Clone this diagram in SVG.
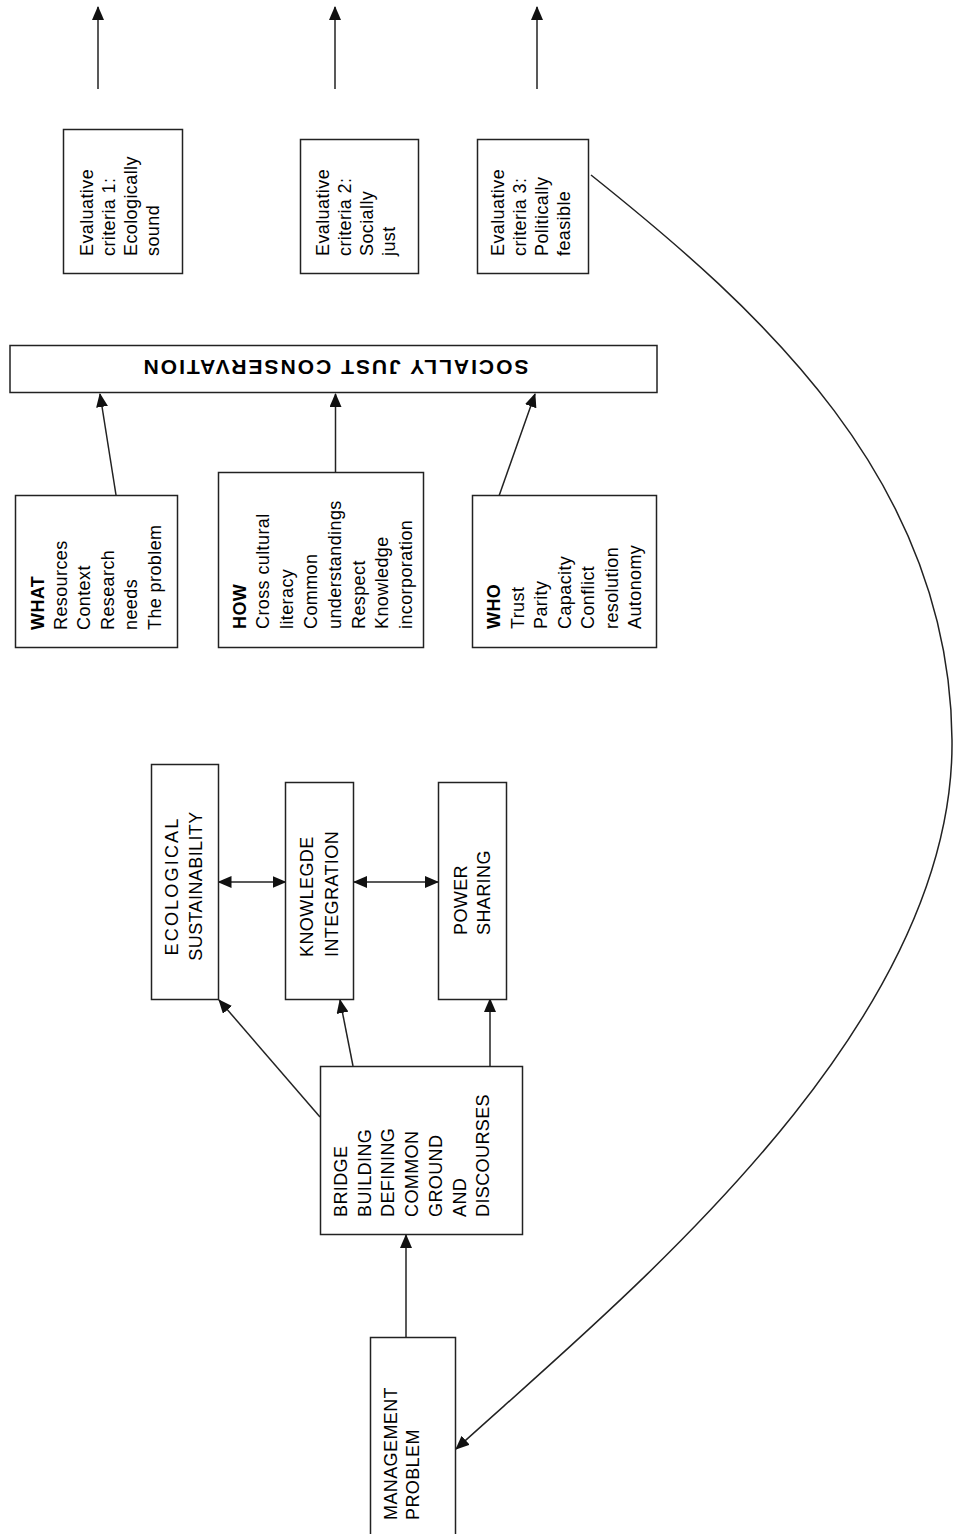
<svg xmlns="http://www.w3.org/2000/svg" width="956" height="1534" viewBox="0 0 956 1534">
<defs>
<style>
.box{fill:#fff;stroke:#222;stroke-width:1.5}
.ln{fill:none;stroke:#222;stroke-width:1.5}
.t{font-family:"Liberation Sans",Arial,sans-serif;font-size:18px;letter-spacing:0.4px;fill:#000}
.b{font-weight:bold}
.sj{font-family:"Liberation Sans",Arial,sans-serif;font-size:21px;font-weight:bold;letter-spacing:2px;fill:#000}
</style>
<marker id="ah" markerUnits="userSpaceOnUse" markerWidth="14" markerHeight="12" refX="13" refY="6" orient="auto-start-reverse" viewBox="0 0 14 12">
<path d="M0,0 L14,6 L0,12 z" fill="#111"/>
</marker>
</defs>
<rect width="956" height="1534" fill="#fff"/>

<g id="connectors">
<line class="ln" x1="98" y1="89" x2="98" y2="7" marker-end="url(#ah)"/>
<line class="ln" x1="335" y1="89" x2="335" y2="7" marker-end="url(#ah)"/>
<line class="ln" x1="537" y1="89" x2="537" y2="7" marker-end="url(#ah)"/>
<line class="ln" x1="116" y1="495" x2="100" y2="394" marker-end="url(#ah)"/>
<line class="ln" x1="335.5" y1="472" x2="335.5" y2="394" marker-end="url(#ah)"/>
<line class="ln" x1="499" y1="496" x2="535" y2="394" marker-end="url(#ah)"/>
<line class="ln" x1="218.5" y1="882" x2="285.5" y2="882" marker-start="url(#ah)" marker-end="url(#ah)"/>
<line class="ln" x1="354" y1="882" x2="438" y2="882" marker-start="url(#ah)" marker-end="url(#ah)"/>
<line class="ln" x1="320" y1="1117" x2="219" y2="1000" marker-end="url(#ah)"/>
<line class="ln" x1="353" y1="1066" x2="340" y2="1000" marker-end="url(#ah)"/>
<line class="ln" x1="490" y1="1066" x2="490" y2="999" marker-end="url(#ah)"/>
<line class="ln" x1="406" y1="1337" x2="406" y2="1235" marker-end="url(#ah)"/>
<path class="ln" d="M591,175 C760,310 950,480 952,740 C955,1030 620,1300 456,1449" marker-end="url(#ah)"/>
</g>

<g id="ec1">
<rect class="box" x="63.5" y="129.5" width="119" height="144"/>
<text class="t" transform="translate(92.5,256) rotate(-90)"><tspan x="0" y="0">Evaluative</tspan><tspan x="0" y="22">criteria 1:</tspan><tspan x="0" y="44">Ecologically</tspan><tspan x="0" y="66">sound</tspan></text>
</g>
<g id="ec2">
<rect class="box" x="300.5" y="139.5" width="118" height="134"/>
<text class="t" transform="translate(329,256) rotate(-90)"><tspan x="0" y="0">Evaluative</tspan><tspan x="0" y="22">criteria 2:</tspan><tspan x="0" y="44">Socially</tspan><tspan x="0" y="66">just</tspan></text>
</g>
<g id="ec3">
<rect class="box" x="477.5" y="139.5" width="111" height="134"/>
<text class="t" transform="translate(504,256) rotate(-90)"><tspan x="0" y="0">Evaluative</tspan><tspan x="0" y="22">criteria 3:</tspan><tspan x="0" y="44">Politically</tspan><tspan x="0" y="66">feasible</tspan></text>
</g>

<g id="sjc">
<rect class="box" x="10" y="345.5" width="647" height="47"/>
<text class="sj" text-anchor="middle" transform="rotate(180,335,368)" x="335" y="376">SOCIALLY JUST CONSERVATION</text>
</g>

<g id="what">
<rect class="box" x="15.5" y="495.5" width="162" height="152"/>
<text class="t" transform="translate(43.5,630) rotate(-90)"><tspan x="0" y="0" class="b">WHAT</tspan><tspan x="0" y="23.4">Resources</tspan><tspan x="0" y="46.8">Context</tspan><tspan x="0" y="70.2">Research</tspan><tspan x="0" y="93.6">needs</tspan><tspan x="0" y="117">The problem</tspan></text>
</g>
<g id="how">
<rect class="box" x="218.5" y="472.5" width="205" height="175"/>
<text class="t" transform="translate(245.5,629) rotate(-90)"><tspan x="0" y="0" class="b">HOW</tspan><tspan x="0" y="23.8">Cross cultural</tspan><tspan x="0" y="47.6">literacy</tspan><tspan x="0" y="71.4">Common</tspan><tspan x="0" y="95.2">understandings</tspan><tspan x="0" y="119">Respect</tspan><tspan x="0" y="142.8">Knowledge</tspan><tspan x="0" y="166.6">incorporation</tspan></text>
</g>
<g id="who">
<rect class="box" x="472.5" y="495.5" width="184" height="152"/>
<text class="t" transform="translate(500,629) rotate(-90)"><tspan x="0" y="0" class="b">WHO</tspan><tspan x="0" y="23.5">Trust</tspan><tspan x="0" y="47">Parity</tspan><tspan x="0" y="70.5">Capacity</tspan><tspan x="0" y="94">Conflict</tspan><tspan x="0" y="117.5">resolution</tspan><tspan x="0" y="141">Autonomy</tspan></text>
</g>

<g id="eco">
<rect class="box" x="151.5" y="764.5" width="67" height="235"/>
<text class="t" text-anchor="middle" transform="translate(178,886) rotate(-90)"><tspan x="0" y="0" letter-spacing="2.2">ECOLOGICAL</tspan><tspan x="0" y="23.5">SUSTAINABILITY</tspan></text>
</g>
<g id="know">
<rect class="box" x="285.5" y="782.5" width="68" height="217"/>
<text class="t" transform="translate(313,957) rotate(-90)"><tspan x="0" y="0">KNOWLEGDE</tspan><tspan x="0" y="25">INTEGRATION</tspan></text>
</g>
<g id="power">
<rect class="box" x="438.5" y="782.5" width="68" height="217"/>
<text class="t" transform="translate(467,935) rotate(-90)"><tspan x="0" y="0">POWER</tspan><tspan x="0" y="23">SHARING</tspan></text>
</g>

<g id="bridge">
<rect class="box" x="320.5" y="1066.5" width="202" height="168"/>
<text class="t" transform="translate(347,1217) rotate(-90)"><tspan x="0" y="0">BRIDGE</tspan><tspan x="0" y="23.7">BUILDING</tspan><tspan x="0" y="47.4">DEFINING</tspan><tspan x="0" y="71.1">COMMON</tspan><tspan x="0" y="94.8">GROUND</tspan><tspan x="0" y="118.5">AND</tspan><tspan x="0" y="142.2">DISCOURSES</tspan></text>
</g>

<g id="mgmt">
<rect class="box" x="370.5" y="1337.5" width="85" height="210"/>
<text class="t" transform="translate(397,1520) rotate(-90)"><tspan x="0" y="0">MANAGEMENT</tspan><tspan x="0" y="21.5">PROBLEM</tspan></text>
</g>
</svg>
